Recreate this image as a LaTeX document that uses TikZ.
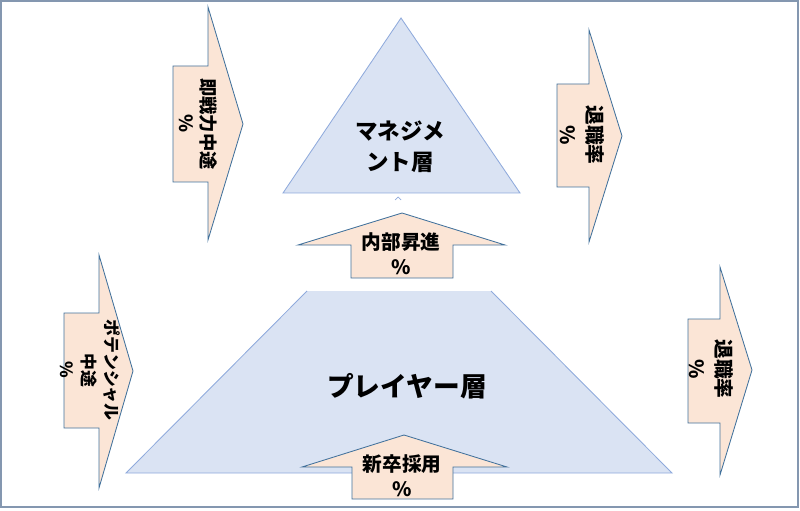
\documentclass[tikz,border=0pt]{standalone}
\usepackage{fontspec}
\newfontfamily\jp{Noto Sans CJK JP}
\definecolor{peach}{HTML}{FBE5D6}
\definecolor{paleblue}{HTML}{DAE3F3}
\definecolor{arrowedge}{HTML}{41719C}
\definecolor{tierline}{HTML}{8FAADC}
\definecolor{framecol}{HTML}{8497B0}

\begin{document}
\begin{tikzpicture}[x=.025cm,y=-.025cm,font=\jp\bfseries,
  flow/.style={fill=peach,draw=arrowedge,line width=.6pt},
  tier/.style={fill=paleblue,draw=tierline,line width=.6pt},
  side/.style={rotate=-90,align=center,inner sep=0pt}]
\useasboundingbox (0,0) rectangle (800,511);
\draw[framecol,line width=.8pt] (1,1) rectangle (798,507);
% management tier
\path[tier] (401,18) -- (520,193) -- (283,193) -- cycle;
\node[align=center,font=\jp\bfseries\fontsize{16}{22}\selectfont] (mgmt) at (400,147) {マネジメ\\ント層};
\draw[tierline,line width=.5pt] (395,200) -- (398,197) -- (401,200);
% player tier (top edge not stroked)
\path[fill=paleblue] (307,291) -- (491,291) -- (672,473) -- (126,473) -- cycle;
\draw[tierline,line width=.6pt] (307,291) -- (126,473) -- (672,473) -- (491,291);
\node[font=\jp\bfseries\fontsize{19}{23}\selectfont] (player) at (407,386) {プレイヤー層};
% promotion arrow
\path[flow] (402,213) -- (505,245) -- (453,245) -- (453,278) -- (351,278) -- (351,245) -- (298,245) -- cycle;
\node[align=center,font=\jp\bfseries\fontsize{14}{18}\selectfont] (promo) at (401,254) {内部昇進\\\%};
% new graduate arrow
\path[flow] (404,435) -- (507,467) -- (453,467) -- (453,499) -- (352,499) -- (352,467) -- (302,467) -- cycle;
\node[align=center,font=\jp\bfseries\fontsize{14}{18}\selectfont] (grad) at (402,476) {新卒採用\\\%};
% mid-career in, top
\path[flow] (173,66) -- (208,66) -- (208,7) -- (243,124) -- (208,240) -- (208,182) -- (173,182) -- cycle;
\node[side,font=\jp\bfseries\fontsize{13}{16}\selectfont] (expert) at (198,124) {即戦力中途\\\%};
% turnover, top
\path[flow] (557,84) -- (589,84) -- (589,30) -- (622,136) -- (589,242) -- (589,187) -- (557,187) -- cycle;
\node[side,font=\jp\bfseries\fontsize{14}{19}\selectfont] (quitmgmt) at (582,135) {退職率\\\%};
% mid-career in, bottom
\path[flow] (64,313) -- (99,313) -- (99,255) -- (133,371) -- (99,488) -- (99,428) -- (64,428) -- cycle;
\node[side,font=\jp\bfseries\fontsize{12}{16}\selectfont] (potential) at (90,370) {ポテンシャル\\中途\\\%};
% turnover, bottom
\path[flow] (688,319) -- (720,319) -- (720,267) -- (752,370) -- (720,475) -- (720,423) -- (688,423) -- cycle;
\node[side,font=\jp\bfseries\fontsize{14}{19}\selectfont] (quitplayer) at (711,369) {退職率\\\%};
\end{tikzpicture}
\end{document}
